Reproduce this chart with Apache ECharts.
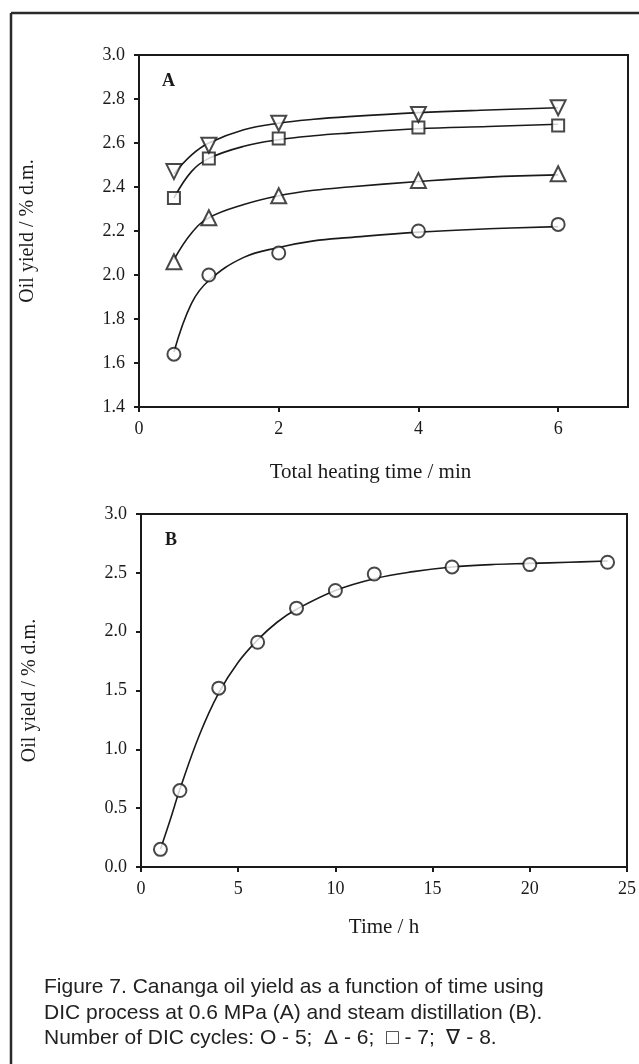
<!DOCTYPE html>
<html>
<head>
<meta charset="utf-8">
<script src="https://cdn.jsdelivr.net/npm/echarts@6/dist/echarts.min.js"></script>
<style>
html,body{margin:0;padding:0;background:#fff;}
#chart{width:639px;height:1064px;}
</style>
</head>
<body>
<div id="chart"></div>
<script>
// ---- Panel A data (DIC, total heating time in min) ----
const timeA = [0.5, 1, 2, 4, 6];
const cycles5 = [1.64, 2.00, 2.10, 2.20, 2.23];
const cycles6 = [2.06, 2.26, 2.36, 2.43, 2.46];
const cycles7 = [2.35, 2.53, 2.62, 2.67, 2.68];
const cycles8 = [2.47, 2.59, 2.69, 2.73, 2.76];
// fitted curves
const fitTimeA = [0.5, 0.75, 1, 1.5, 2, 2.5, 3, 4, 5, 6];
const fit5 = [1.65, 1.87, 1.975, 2.08, 2.125, 2.155, 2.17, 2.195, 2.21, 2.22];
const fit6 = [2.07, 2.19, 2.26, 2.32, 2.36, 2.385, 2.40, 2.425, 2.445, 2.455];
const fit7 = [2.35, 2.47, 2.53, 2.585, 2.615, 2.633, 2.645, 2.665, 2.675, 2.685];
const fit8 = [2.46, 2.545, 2.60, 2.66, 2.69, 2.708, 2.72, 2.738, 2.75, 2.76];
const xTicksA = [0, 2, 4, 6];

// ---- Panel B data (steam distillation, time in h) ----
const timeB = [1, 2, 4, 6, 8, 10, 12, 16, 20, 24];
const yieldB = [0.15, 0.65, 1.52, 1.91, 2.20, 2.35, 2.49, 2.55, 2.57, 2.59];
const fitTimeB = [1, 1.5, 2, 3, 4, 5, 6, 7, 8, 10, 12, 14, 16, 18, 20, 22, 24];
const fitB = [0.15, 0.40, 0.66, 1.12, 1.48, 1.74, 1.93, 2.08, 2.19, 2.35, 2.45, 2.51, 2.55, 2.57, 2.58, 2.59, 2.60];

const captionLines = [
  'Figure 7. Cananga oil yield as a function of time using',
  'DIC process at 0.6 MPa (A) and steam distillation (B).',
  'Number of DIC cycles: O - 5;  \u0394 - 6;  \u25A1 - 7;  \u2207 - 8.'
];

const INK = '#1a1a1a';
const SERIF = '"Liberation Serif", "Times New Roman", serif';
const SANS = '"Liberation Sans", Arial, sans-serif';

function pairs(xs, ys){ return xs.map((x,i)=>[x, ys[i]]); }

const markerStyle = {color:'#fff', borderColor: INK, borderWidth: 2};
function scatter(name, xs, ys, symbol, size, gi, rotate){
  return {name, type:'scatter', xAxisIndex:gi, yAxisIndex:gi, data:pairs(xs,ys),
    symbol, symbolSize:size, symbolRotate: rotate||0, itemStyle:markerStyle, z:5};
}
function fit(name, xs, ys, gi){
  return {name, type:'line', xAxisIndex:gi, yAxisIndex:gi, data:pairs(xs,ys),
    smooth:0.4, showSymbol:false, lineStyle:{color:INK, width:1.6}, z:3};
}

function xAxisCfg(gi, min, max, interval, name, nameGap, extra){
  return Object.assign({
    type:'value', gridIndex:gi, min, max, interval,
    name, nameLocation:'middle', nameGap,
    nameTextStyle:{fontFamily:SERIF, fontSize:21, color:INK},
    axisLine:{show:true, lineStyle:{color:INK, width:2}},
    axisTick:{show:true, inside:false, length:5, lineStyle:{color:INK, width:2}},
    axisLabel:{fontFamily:SERIF, fontSize:18, color:INK, margin:13},
    splitLine:{show:false}
  }, extra||{});
}
function yAxisCfg(gi, min, max, interval){
  return {
    type:'value', gridIndex:gi, min, max, interval,
    name:'Oil yield / % d.m.', nameLocation:'middle', nameGap:101,
    nameTextStyle:{fontFamily:SERIF, fontSize:20, color:INK},
    axisLine:{show:true, lineStyle:{color:INK, width:2}},
    axisTick:{show:true, inside:false, length:5, lineStyle:{color:INK, width:2}},
    axisLabel:{fontFamily:SERIF, fontSize:18, color:INK, margin:14,
      formatter:v=>Number(v).toFixed(1)},
    splitLine:{show:false}
  };
}

const chart = echarts.init(document.getElementById('chart'), null, {renderer:'canvas'});
chart.setOption({
  backgroundColor:'#fff',
  animation:false,
  grid:[
    {left:139, top:55, width:489, height:352, show:true, borderColor:INK, borderWidth:2, backgroundColor:'transparent'},
    {left:141, top:514, width:490, height:353, show:true, borderColor:INK, borderWidth:2, backgroundColor:'transparent'}
  ],
  xAxis:[
    xAxisCfg(0, 0, 7, 1, 'Total heating time / min', 55, {
      nameTextStyle:{fontFamily:SERIF, fontSize:21, color:INK, padding:[0, 26, 0, 0]},
      axisTick:{show:true, inside:false, length:5, lineStyle:{color:INK, width:2}, customValues:xTicksA},
      axisLabel:{fontFamily:SERIF, fontSize:18, color:INK, margin:13, customValues:xTicksA}
    }),
    xAxisCfg(1, 0, 25, 5, 'Time / h', 50)
  ],
  yAxis:[ yAxisCfg(0, 1.4, 3.0, 0.2), yAxisCfg(1, 0, 3.0, 0.5) ],
  graphic:[
    {type:'line', shape:{x1:11, y1:13, x2:639, y2:13}, style:{stroke:'#2a2a2a', lineWidth:2.5}},
    {type:'line', shape:{x1:11, y1:13, x2:11, y2:1064}, style:{stroke:'#2a2a2a', lineWidth:2.5}},
    {type:'text', left:162, top:72, style:{text:'A', font:'bold 18px '+SERIF, fill:INK}},
    {type:'text', left:165, top:531, style:{text:'B', font:'bold 18px '+SERIF, fill:INK}},
    {type:'text', left:44, top:977, style:{text:captionLines[0], font:'21px '+SANS, fill:'#222'}},
    {type:'text', left:44, top:1003, style:{text:captionLines[1], font:'21px '+SANS, fill:'#222'}},
    {type:'text', left:44, top:1028, style:{text:captionLines[2], font:'21px '+SANS, fill:'#222'}}
  ],
  series:[
    fit('fit 5 cycles', fitTimeA, fit5, 0),
    fit('fit 6 cycles', fitTimeA, fit6, 0),
    fit('fit 7 cycles', fitTimeA, fit7, 0),
    fit('fit 8 cycles', fitTimeA, fit8, 0),
    scatter('5 cycles', timeA, cycles5, 'circle', 13, 0),
    scatter('6 cycles', timeA, cycles6, 'triangle', 15, 0),
    scatter('7 cycles', timeA, cycles7, 'rect', 12, 0),
    scatter('8 cycles', timeA, cycles8, 'triangle', 15, 0, 180),
    fit('fit steam distillation', fitTimeB, fitB, 1),
    scatter('steam distillation', timeB, yieldB, 'circle', 13, 1)
  ]
});
</script>
</body>
</html>
